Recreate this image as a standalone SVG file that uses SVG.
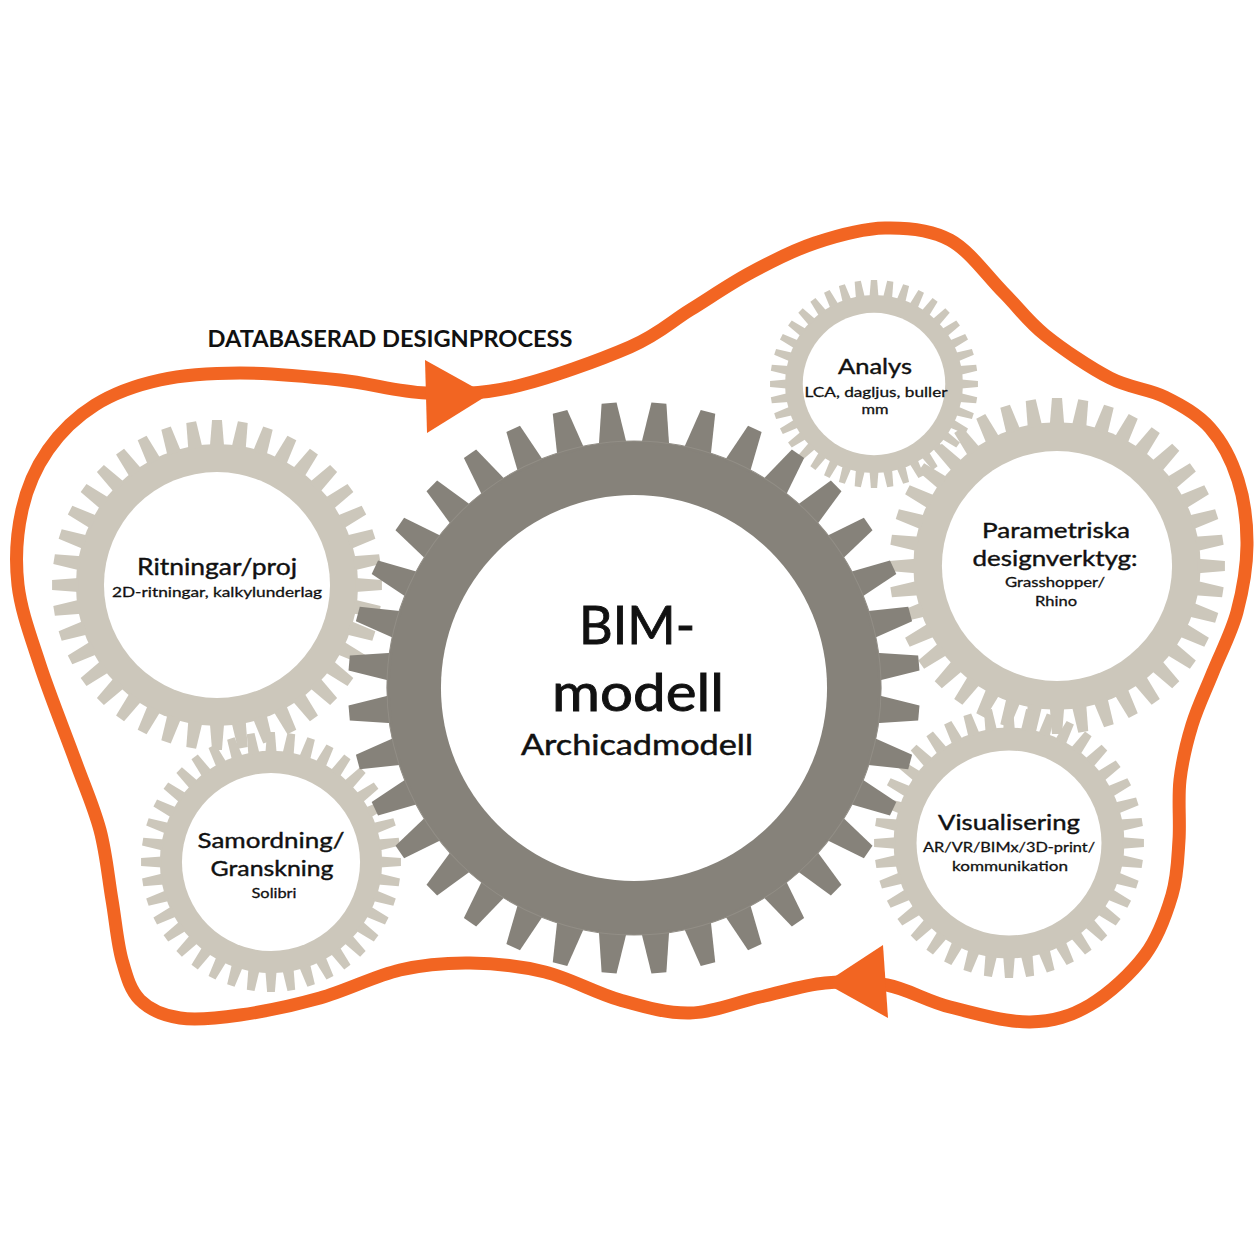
<svg xmlns="http://www.w3.org/2000/svg" width="1260" height="1260" viewBox="0 0 1260 1260">
<style>
.lg{fill:#ccc7bb}
.dg{fill:#86827a}
.hole{fill:#ffffff}
.flow{fill:none;stroke:#f26522;stroke-width:13;stroke-linejoin:round}
.head{fill:#f26522}
text{font-family:Lato,"Liberation Sans",sans-serif;fill:#111;text-anchor:middle}
.t1{font-size:22px;stroke:#111;stroke-width:0.4px}
.t2{font-size:14px;stroke:#111;stroke-width:0.3px}
.big{font-size:53px;stroke:#111;stroke-width:0.9px}
.mid{font-size:29px;stroke:#111;stroke-width:0.5px}
.title{font-size:23px;font-weight:bold}
</style>
<defs>
<path id="lt" d="M-4.3,-83.9 L-3,-99.95 L3,-99.95 L4.3,-83.9 Z"/>
<path id="dt" d="M-4.9,-85.3 L-2.62,-99.97 L2.62,-99.97 L4.9,-85.3 Z"/>
<g id="lightGear" class="lg">
<circle r="85.5"/>
<use href="#lt"/><use href="#lt" transform="rotate(9)"/><use href="#lt" transform="rotate(18)"/><use href="#lt" transform="rotate(27)"/><use href="#lt" transform="rotate(36)"/><use href="#lt" transform="rotate(45)"/><use href="#lt" transform="rotate(54)"/><use href="#lt" transform="rotate(63)"/><use href="#lt" transform="rotate(72)"/><use href="#lt" transform="rotate(81)"/>
<use href="#lt" transform="rotate(90)"/><use href="#lt" transform="rotate(99)"/><use href="#lt" transform="rotate(108)"/><use href="#lt" transform="rotate(117)"/><use href="#lt" transform="rotate(126)"/><use href="#lt" transform="rotate(135)"/><use href="#lt" transform="rotate(144)"/><use href="#lt" transform="rotate(153)"/><use href="#lt" transform="rotate(162)"/><use href="#lt" transform="rotate(171)"/>
<use href="#lt" transform="rotate(180)"/><use href="#lt" transform="rotate(189)"/><use href="#lt" transform="rotate(198)"/><use href="#lt" transform="rotate(207)"/><use href="#lt" transform="rotate(216)"/><use href="#lt" transform="rotate(225)"/><use href="#lt" transform="rotate(234)"/><use href="#lt" transform="rotate(243)"/><use href="#lt" transform="rotate(252)"/><use href="#lt" transform="rotate(261)"/>
<use href="#lt" transform="rotate(270)"/><use href="#lt" transform="rotate(279)"/><use href="#lt" transform="rotate(288)"/><use href="#lt" transform="rotate(297)"/><use href="#lt" transform="rotate(306)"/><use href="#lt" transform="rotate(315)"/><use href="#lt" transform="rotate(324)"/><use href="#lt" transform="rotate(333)"/><use href="#lt" transform="rotate(342)"/><use href="#lt" transform="rotate(351)"/>
<circle class="hole" r="68.5"/>
</g>
<g id="darkGear" class="dg">
<circle r="86.4"/>
<use href="#dt" transform="rotate(5)"/><use href="#dt" transform="rotate(15)"/><use href="#dt" transform="rotate(25)"/><use href="#dt" transform="rotate(35)"/><use href="#dt" transform="rotate(45)"/><use href="#dt" transform="rotate(55)"/><use href="#dt" transform="rotate(65)"/><use href="#dt" transform="rotate(75)"/><use href="#dt" transform="rotate(85)"/>
<use href="#dt" transform="rotate(95)"/><use href="#dt" transform="rotate(105)"/><use href="#dt" transform="rotate(115)"/><use href="#dt" transform="rotate(125)"/><use href="#dt" transform="rotate(135)"/><use href="#dt" transform="rotate(145)"/><use href="#dt" transform="rotate(155)"/><use href="#dt" transform="rotate(165)"/><use href="#dt" transform="rotate(175)"/>
<use href="#dt" transform="rotate(185)"/><use href="#dt" transform="rotate(195)"/><use href="#dt" transform="rotate(205)"/><use href="#dt" transform="rotate(215)"/><use href="#dt" transform="rotate(225)"/><use href="#dt" transform="rotate(235)"/><use href="#dt" transform="rotate(245)"/><use href="#dt" transform="rotate(255)"/><use href="#dt" transform="rotate(265)"/>
<use href="#dt" transform="rotate(275)"/><use href="#dt" transform="rotate(285)"/><use href="#dt" transform="rotate(295)"/><use href="#dt" transform="rotate(305)"/><use href="#dt" transform="rotate(315)"/><use href="#dt" transform="rotate(325)"/><use href="#dt" transform="rotate(335)"/><use href="#dt" transform="rotate(345)"/><use href="#dt" transform="rotate(355)"/>
<circle r="86.4" fill="none" stroke="#928e86" stroke-width="0.35"/>
<circle class="hole" r="67.5"/>
</g>
</defs>
<rect width="1260" height="1260" fill="#ffffff"/>

<g id="connectors">
<path class="flow" d="M95,405 C113.7,393.3 135.8,385.3 160,380 S210,373 240,373 S309,376.7 340,380 S397.2,391.8 426,393 S479,394.7 513,387 S600.5,359.8 630,347 S670,322.3 690,310 S729.2,284.2 750,273 S792.5,250.5 815,243 S862.5,228.5 885,228 S930.3,229.3 950,240 S987.2,276.2 1003,292 S1027.2,320.7 1045,335 S1090,367.7 1110,378 S1148.3,388.7 1165,397 S1197.8,414.2 1210,428 S1231.8,460.5 1238,480 S1247.2,523 1247,545 S1242.7,590.8 1237,612 S1220.5,653.2 1213,672 S1197.5,707 1192,725 S1182.2,760.8 1180,780 S1180.3,820.8 1179,840 S1177.7,875.8 1172,895 S1158.7,936.7 1145,955 S1109.2,993.8 1090,1005 S1053.3,1021.7 1030,1022 S973.8,1013.2 950,1007 S907.8,989 887,985 S846.2,981 825,983 S782.5,992 760,997 S713.3,1012.5 690,1013 S644.2,1006.8 620,1000 S570,978.2 545,972 S494.2,963.3 470,963 S425,964.2 400,970 S346.7,990.5 320,998 S263.3,1011.7 240,1015 S196.7,1020.5 180,1018 S149.7,1009.7 140,1000 S126.7,976.7 122,960 S115.7,921.7 112,900 S106.2,853.3 100,830 S85,787.5 75,760 S49.5,694.2 40,665 S21,610.8 18,585 S17,532.5 22,510 S35.8,467.5 48,450 S76.3,416.7 95,405 Z"/>
<polygon class="head" points="425,360 488,395 427,433"/>
<polygon class="head" points="883,945 825,983 888,1018"/>
</g>

<text class="title" x="390" y="347" textLength="365" lengthAdjust="spacingAndGlyphs">DATABASERAD DESIGNPROCESS</text>

<g id="node-ritningar">
<use href="#lightGear" transform="translate(217,585) scale(1.65)"/>
<text class="t1" x="217" y="575" style="font-size:23px" textLength="160" lengthAdjust="spacingAndGlyphs">Ritningar/proj</text>
<text class="t2" x="217" y="597" textLength="210" lengthAdjust="spacingAndGlyphs">2D-ritningar, kalkylunderlag</text>
</g>

<g id="node-samordning">
<use href="#lightGear" transform="translate(271,862) scale(1.30)"/>
<text class="t1" x="271" y="848" textLength="147" lengthAdjust="spacingAndGlyphs">Samordning/</text>
<text class="t1" x="272" y="876" textLength="123" lengthAdjust="spacingAndGlyphs">Granskning</text>
<text class="t2" x="274" y="898" textLength="45" lengthAdjust="spacingAndGlyphs">Solibri</text>
</g>

<g id="node-analys">
<use href="#lightGear" transform="translate(874,384) scale(1.04)"/>
<text class="t1" x="875" y="374" style="font-size:21px" textLength="74" lengthAdjust="spacingAndGlyphs">Analys</text>
<text class="t2" x="876" y="397" textLength="143" lengthAdjust="spacingAndGlyphs">LCA, dagljus, buller</text>
<text class="t2" x="875" y="414" textLength="27" lengthAdjust="spacingAndGlyphs">mm</text>
</g>

<g id="node-parametriska">
<use href="#lightGear" transform="translate(1057,566) scale(1.68)"/>
<text class="t1" x="1056" y="538" style="font-size:21px" textLength="148" lengthAdjust="spacingAndGlyphs">Parametriska</text>
<text class="t1" x="1055" y="566" style="font-size:21px" textLength="165" lengthAdjust="spacingAndGlyphs">designverktyg:</text>
<text class="t2" x="1055" y="587" textLength="100" lengthAdjust="spacingAndGlyphs">Grasshopper/</text>
<text class="t2" x="1056" y="606" textLength="42" lengthAdjust="spacingAndGlyphs">Rhino</text>
</g>

<g id="node-visualisering">
<use href="#lightGear" transform="translate(1009,843) scale(1.35)"/>
<text class="t1" x="1009" y="830" style="font-size:21px" textLength="142" lengthAdjust="spacingAndGlyphs">Visualisering</text>
<text class="t2" x="1009" y="852" textLength="172" lengthAdjust="spacingAndGlyphs">AR/VR/BIMx/3D-print/</text>
<text class="t2" x="1010" y="871" textLength="116" lengthAdjust="spacingAndGlyphs">kommunikation</text>
</g>

<g id="node-bim">
<use href="#darkGear" transform="translate(634,688) scale(2.86)"/>
<text class="big" x="637" y="644" textLength="116" lengthAdjust="spacingAndGlyphs">BIM-</text>
<text class="big" x="638" y="711" textLength="172" lengthAdjust="spacingAndGlyphs">modell</text>
<text class="mid" x="637" y="755" textLength="232" lengthAdjust="spacingAndGlyphs">Archicadmodell</text>
</g>
</svg>
